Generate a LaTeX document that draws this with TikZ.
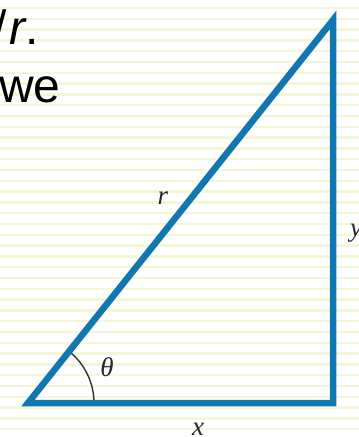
\documentclass[tikz,border=0pt]{standalone}
\usepackage{fontspec}
\usetikzlibrary{calc}
\setmainfont{Liberation Sans}
\newfontfamily\labfont{Liberation Serif}
\definecolor{stripe}{RGB}{243,247,216}
\definecolor{tri}{RGB}{18,118,176}
\definecolor{lab}{RGB}{45,35,55}
\definecolor{arcc}{RGB}{50,50,50}
\begin{document}
\begin{tikzpicture}[x=1pt,y=-1pt,
  side/.style={draw=tri,line width=6.5pt,line join=miter},
  lbl/.style={inner sep=0pt,text=lab,font=\labfont\itshape\fontsize{27}{27}\selectfont},
  big/.style={inner sep=0pt,font=\fontsize{48}{48}\selectfont}]
\useasboundingbox (0,0) rectangle (359,437);
\fill[white] (0,0) rectangle (359,437);
\foreach \k in {0,...,40}{
  \draw[stripe,line width=2.5pt] (0,{8+10.8*\k}) -- (359,{8+10.8*\k});
}
\coordinate (A) at (28,403);
\coordinate (B) at (333,403);
\coordinate (C) at (333,20);
\draw[arcc,line width=1.4pt] ($(A)+(66,0)$) arc[start angle=0,end angle=-51.5,radius=66];
\draw[side] (A) -- (B) -- (C) -- cycle;
\node[big,anchor=base east] (t1) at (39,44) {/\hspace{3pt}\textit{r}.};
\node[big,anchor=base west] (t2) at (-1,102) {we};
\node[lbl] (lr) at (163,198) {r};
\node[lbl] (lt) at (107,367) {θ};
\node[lbl] (lx) at (198,429) {x};
\node[lbl,anchor=base] (ly) at (356,236) {y};
\end{tikzpicture}
\end{document}
